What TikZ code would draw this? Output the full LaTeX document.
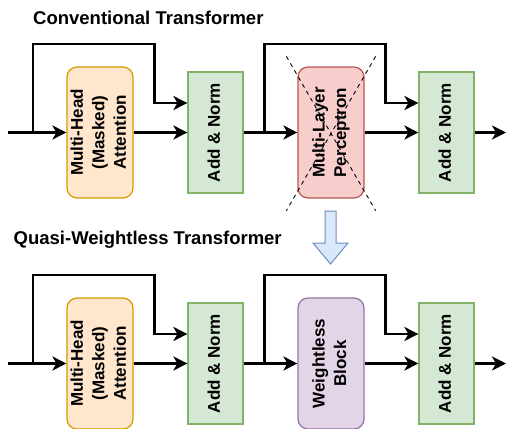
\documentclass[tikz,border=0pt]{standalone}
\usepackage{fontspec}
\setmainfont{Liberation Sans}
\usepackage{graphicx}
\usepackage{tikz}
\usetikzlibrary{arrows.meta}
\definecolor{attnFill}{HTML}{FFE6CC}
\definecolor{attnLine}{HTML}{D79B00}
\definecolor{normFill}{HTML}{D5E8D4}
\definecolor{normLine}{HTML}{82B366}
\definecolor{mlpFill}{HTML}{F8CECC}
\definecolor{mlpLine}{HTML}{B85450}
\definecolor{wlFill}{HTML}{E1D5E7}
\definecolor{wlLine}{HTML}{9673A6}
\definecolor{downFill}{HTML}{DAE8FC}
\definecolor{downLine}{HTML}{6C8EBF}
\newcommand{\vlabel}[1]{\rotatebox{90}{\begin{tabular}{@{}c@{}}#1\end{tabular}}}
\tikzstyle{block} = [rectangle, rounded corners=10pt, minimum width=66pt,
minimum height=131pt, inner sep=0pt, line width=1.2pt,
font=\fontsize{17}{21.5}\selectfont\bfseries]
\tikzstyle{attention} = [block, draw=attnLine, fill=attnFill]
\tikzstyle{mlp} = [block, draw=mlpLine, fill=mlpFill]
\tikzstyle{weightless} = [block, draw=wlLine, fill=wlFill]
\tikzstyle{addnorm} = [block, sharp corners, minimum width=55pt,
minimum height=121pt, draw=normLine, fill=normFill]
\tikzstyle{title} = [anchor=base west, inner sep=0pt,
font=\fontsize{18.5}{22}\selectfont\bfseries]
\tikzstyle{arrow} = [line width=2.6pt, -{Stealth[length=14pt,width=14pt,inset=4pt]}]
\tikzstyle{cross} = [line width=0.9pt, dash pattern=on 4pt off 4pt]
\tikzstyle{bigarrow} = [line width=1pt, draw=downLine, fill=downFill]

\begin{document}
\begin{tikzpicture}[x=1pt, y=-1pt, node distance=115.5pt]
\useasboundingbox (0,0) rectangle (507,429);

\node(titleTop)[title] at (33,24) {Conventional Transformer};
\node(mhaTop)[attention] at (100,132.5) {\vlabel{Multi-Head\\(Masked)\\Attention}};
\node(addTop)[addnorm, right of=mhaTop] {\vlabel{Add \& Norm}};
\node(mlpTop)[mlp, right of=addTop] {\vlabel{Multi-Layer\\Perceptron}};
\node(addTopB)[addnorm, right of=mlpTop] {\vlabel{Add \& Norm}};

\node(titleBot)[title] at (13.5,244) {Quasi-Weightless Transformer};
\node(mhaBot)[attention, below of=mhaTop, node distance=231pt] {\vlabel{Multi-Head\\(Masked)\\Attention}};
\node(addBot)[addnorm, right of=mhaBot] {\vlabel{Add \& Norm}};
\node(wlBot)[weightless, right of=addBot] {\vlabel{Weightless\\Block}};
\node(addBotB)[addnorm, right of=wlBot] {\vlabel{Add \& Norm}};

\coordinate(inTop) at (8,132.5);
\coordinate(splitTop) at (33,132.5);
\coordinate(splitTopB) at ([xshift=21pt]addTop.east);
\coordinate(outTop) at (506,132.5);
\coordinate(inBot) at (8,363.5);
\coordinate(splitBot) at (33,363.5);
\coordinate(splitBotB) at ([xshift=21pt]addBot.east);
\coordinate(outBot) at (506,363.5);

\draw[arrow](inTop) -- (mhaTop);
\draw[arrow](mhaTop) -- (addTop);
\draw[arrow](splitTop) -- ++(0,-88.5) -| ([xshift=-33pt,yshift=29.5pt]addTop.west) -- ([yshift=29.5pt]addTop.west);
\draw[arrow](addTop) -- (mlpTop);
\draw[arrow](mlpTop) -- (addTopB);
\draw[arrow](splitTopB) -- ++(0,-88.5) -| ([xshift=-33pt,yshift=29.5pt]addTopB.west) -- ([yshift=29.5pt]addTopB.west);
\draw[arrow](addTopB) -- (outTop);

\draw[cross]([shift={(-11pt,10pt)}]mlpTop.north west) -- ([shift={(11pt,-12pt)}]mlpTop.south east);
\draw[cross]([shift={(11pt,10pt)}]mlpTop.north east) -- ([shift={(-11pt,-12pt)}]mlpTop.south west);

\draw[bigarrow](325,211) -- (336,211) -- (336,243) -- (348,243) -- (330.5,264)
-- (313,243) -- (325,243) -- cycle;

\draw[arrow](inBot) -- (mhaBot);
\draw[arrow](mhaBot) -- (addBot);
\draw[arrow](splitBot) -- ++(0,-88.5) -| ([xshift=-33pt,yshift=29.5pt]addBot.west) -- ([yshift=29.5pt]addBot.west);
\draw[arrow](addBot) -- (wlBot);
\draw[arrow](wlBot) -- (addBotB);
\draw[arrow](splitBotB) -- ++(0,-88.5) -| ([xshift=-33pt,yshift=29.5pt]addBotB.west) -- ([yshift=29.5pt]addBotB.west);
\draw[arrow](addBotB) -- (outBot);

\end{tikzpicture}
\end{document}
